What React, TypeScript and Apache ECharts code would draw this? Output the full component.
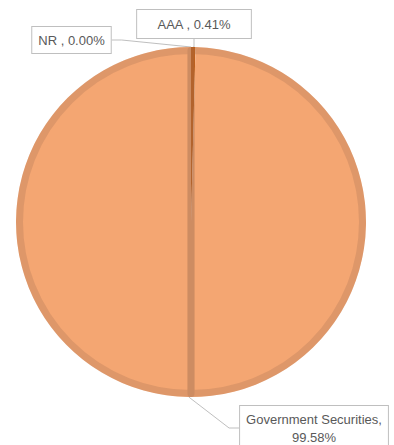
import React, { useEffect, useRef } from "react";
import * as echarts from "echarts";

const categories = ["NR", "AAA", "Government Securities"];
const values = [0.0, 0.41, 99.58];
const sliceColors = ["#F4A672", "#C65E10", "#F4A672"];
const outlineHalves = [50, 50];

export default function App() {
  const ref = useRef<HTMLDivElement>(null);

  useEffect(() => {
    document.body.style.margin = "0";
    const chart = echarts.init(ref.current!, null, { renderer: "svg" });

    const labelPos = [
      { x: 71.5, y: 27 },
      { x: 194, y: 10 },
      { x: 314, y: 406 },
    ];
    const labelPad = [
      [4, 6],
      [5, 20],
      [4, 6],
    ];

    chart.setOption({
      animation: false,
      backgroundColor: "#ffffff",
      series: [
        {
          type: "pie",
          center: [191, 222],
          radius: [0, 175],
          startAngle: 90,
          clockwise: true,
          avoidLabelOverlap: false,
          stillShowZeroSum: true,
          minAngle: 0,
          data: categories.map((name, i) => ({
            name,
            value: values[i],
            itemStyle: { color: sliceColors[i] },
            label: { padding: labelPad[i] },
          })),
          itemStyle: { borderWidth: 0 },
          label: {
            show: true,
            position: "outside",
            formatter: (p: any) =>
              p.dataIndex === 2
                ? `${p.name},\n${values[p.dataIndex].toFixed(2)}%`
                : `${p.name} , ${values[p.dataIndex].toFixed(2)}%`,
            color: "#595959",
            fontFamily: "Liberation Sans, Arial, sans-serif",
            fontSize: 13,
            lineHeight: 18,
            backgroundColor: "#ffffff",
            borderColor: "#BFBFBF",
            borderWidth: 1,
            align: "center",
          },
          labelLine: {
            show: true,
            length: 10,
            length2: 10,
            smooth: false,
            lineStyle: { color: "#BFBFBF", width: 1 },
          },
          labelLayout: (params: any) => {
            const p = labelPos[params.dataIndex];
            return { x: p.x, y: p.y, align: "center", verticalAlign: "top" };
          },
          emphasis: { disabled: true },
          z: 2,
        },
        {
          type: "pie",
          center: [191, 222],
          radius: [0, 171.5],
          startAngle: 90,
          silent: true,
          data: outlineHalves.map((v) => ({ value: v })),
          itemStyle: {
            color: "rgba(0,0,0,0)",
            borderColor: "rgba(160,110,80,0.26)",
            borderWidth: 7,
          },
          label: { show: false },
          labelLine: { show: false },
          emphasis: { disabled: true },
          z: 3,
        },
      ],
    });

    return () => chart.dispose();
  }, []);

  return <div ref={ref} style={{ width: 394, height: 445 }} />;
}
